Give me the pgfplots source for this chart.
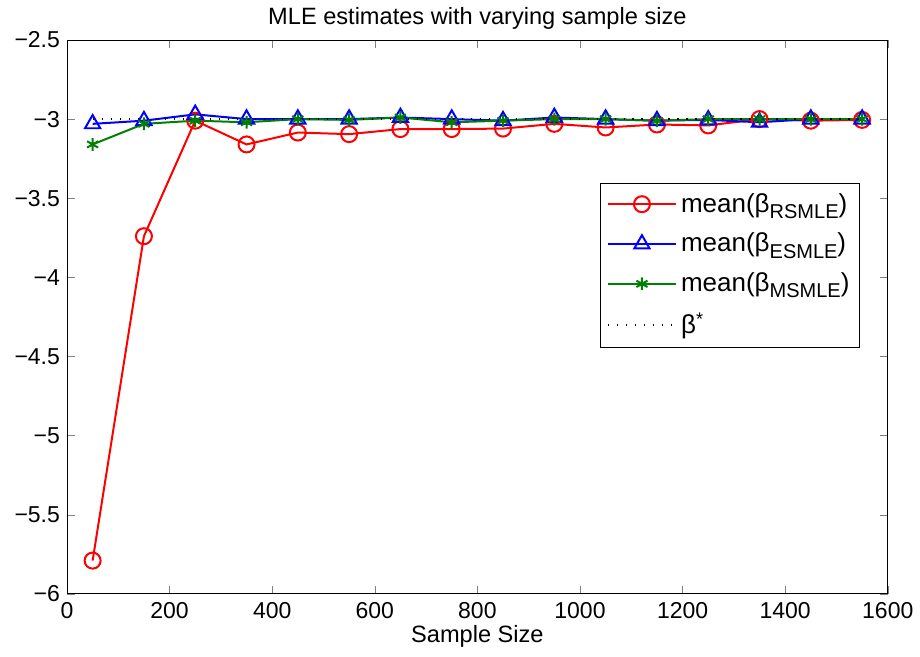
\documentclass[border=0pt]{standalone}
\usepackage{pgfplots}
\pgfplotsset{compat=1.18}
\usepackage{fontspec}
\setmainfont{Liberation Sans}
\newcommand{\sub}[1]{\raisebox{-0.45ex}{\fontsize{10}{12}\selectfont #1}}
\begin{document}
\begin{tikzpicture}
\begin{axis}[
  width=410.5pt, height=277pt, scale only axis,
  xmin=0, xmax=1600, ymin=-6, ymax=-2.5,
  xtick={0,200,...,1600}, ytick={-6,-5.5,-5,-4.5,-4,-3.5,-3,-2.5},
  yticklabels={−6,−5.5,−5,−4.5,−4,−3.5,−3,−2.5},
  tick align=inside, tick pos=both,
  major tick length=4pt,
  /pgf/number format/assume math mode=true,
  /pgf/number format/1000 sep={},
  ticklabel style={font=\fontsize{11.5}{13}\selectfont},
  xticklabel style={yshift=-1pt},
  title={MLE estimates with varying sample size},
  title style={font=\fontsize{11.8}{14}\selectfont, yshift=-4pt},
  xlabel={Sample Size},
  xlabel style={font=\fontsize{11.8}{14}\selectfont, yshift=4pt},
  legend style={at={(0.966,0.742)}, anchor=north east, draw=black,
    font=\fontsize{13}{15}\selectfont, row sep=5pt, inner sep=3pt},
  legend cell align=left,
  legend image code/.code={\draw[mark repeat=2,mark phase=2]
    plot coordinates {(0cm,0cm) (0.6cm,0cm) (1.2cm,0cm)};},
  every axis plot/.append style={line width=1pt},
]
\addplot[red, mark=o, mark size=4pt] coordinates {
(50,-5.79) (150,-3.74) (250,-3.01) (350,-3.16) (450,-3.085) (550,-3.095)
(650,-3.063) (750,-3.063) (850,-3.06) (950,-3.03) (1050,-3.053) (1150,-3.034)
(1250,-3.04) (1350,-3.00) (1450,-3.01) (1550,-3.005)
};
\addlegendentry{mean(β\sub{RSMLE})}
\addplot[blue, mark=triangle, mark size=4.4pt] coordinates {
(50,-3.03) (150,-3.01) (250,-2.97) (350,-3.0) (450,-3.0) (550,-3.0)
(650,-2.99) (750,-3.0) (850,-3.01) (950,-2.99) (1050,-3.0) (1150,-3.01)
(1250,-3.005) (1350,-3.02) (1450,-3.0) (1550,-3.0)
};
\addlegendentry{mean(β\sub{ESMLE})}
\addplot[green!50!black, mark=asterisk, mark size=3.2pt] coordinates {
(50,-3.16) (150,-3.03) (250,-3.01) (350,-3.02) (450,-3.0) (550,-3.005)
(650,-2.99) (750,-3.02) (850,-3.01) (950,-3.0) (1050,-3.0) (1150,-3.01)
(1250,-3.0) (1350,-3.0) (1450,-3.0) (1550,-3.0)
};
\addlegendentry{mean(β\sub{MSMLE})}
\addplot[black, line width=0.7pt, dash pattern=on 0.7pt off 3.8pt] coordinates {
(50,-3) (150,-3) (250,-3) (350,-3) (450,-3) (550,-3) (650,-3) (750,-3)
(850,-3) (950,-3) (1050,-3) (1150,-3) (1250,-3) (1350,-3) (1450,-3) (1550,-3)
};
\addlegendentry{β\textsuperscript{*}}
\end{axis}
\path ([xshift=-33.5pt, yshift=-31.5pt]current axis.south west)
  rectangle ([xshift=16pt, yshift=20pt]current axis.north east);
\end{tikzpicture}
\end{document}
